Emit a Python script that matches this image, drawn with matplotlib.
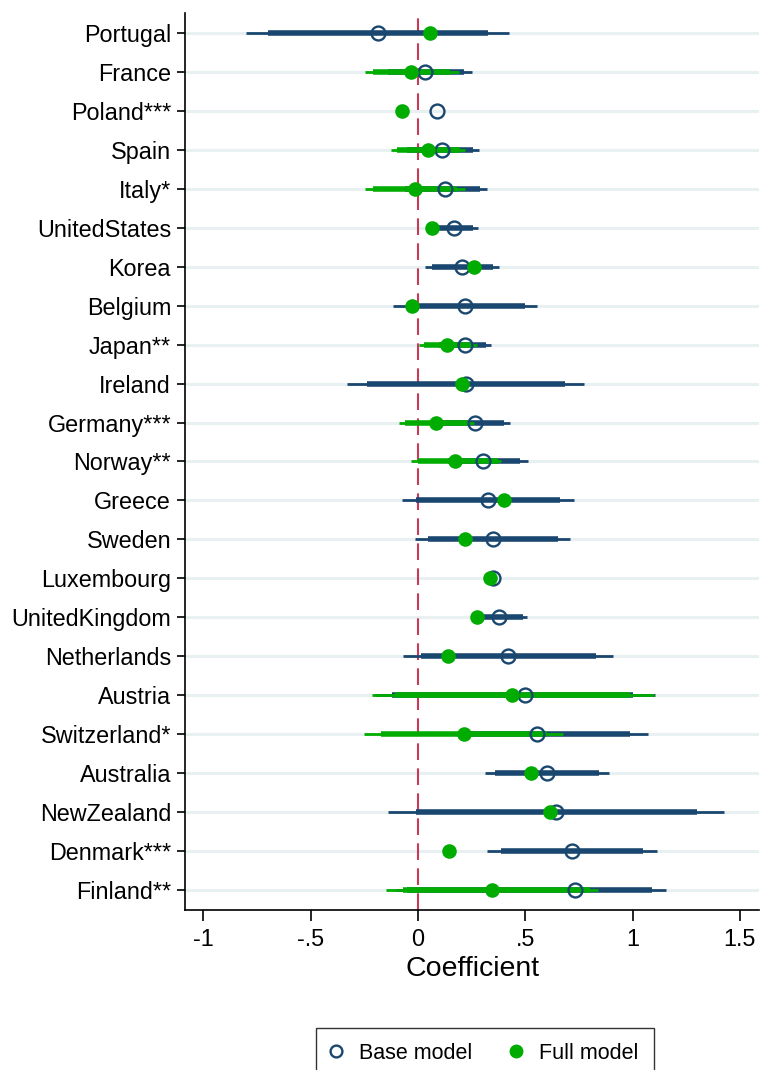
import numpy as np
import matplotlib

matplotlib.use("Agg")
import matplotlib.pyplot as plt
from matplotlib.lines import Line2D

plt.rcParams["font.family"] = ["Liberation Sans", "DejaVu Sans"]

# Countries, top to bottom
countries = [
    "Portugal", "France", "Poland***", "Spain", "Italy*", "UnitedStates",
    "Korea", "Belgium", "Japan**", "Ireland", "Germany***", "Norway**",
    "Greece", "Sweden", "Luxembourg", "UnitedKingdom", "Netherlands",
    "Austria", "Switzerland*", "Australia", "NewZealand", "Denmark***",
    "Finland**",
]

nan = np.nan

# Base model: point estimate, 95% (thin) and 90% (thick) intervals
base_coef = [-0.187, 0.034, 0.091, 0.114, 0.125, 0.169, 0.206, 0.220, 0.220,
             0.223, 0.267, 0.305, 0.326, 0.349, 0.349, 0.378, 0.419, 0.500,
             0.554, 0.600, 0.642, 0.717, 0.733]
base_lo95 = [-0.800, -0.190, nan, -0.080, -0.100, 0.075, 0.035, -0.114, 0.080,
             -0.328, 0.060, 0.100, -0.075, -0.013, nan, 0.280, -0.068, -0.200,
             0.127, 0.313, -0.137, 0.321, -0.100]
base_hi95 = [0.424, 0.250, nan, 0.287, 0.320, 0.279, 0.380, 0.554, 0.340,
             0.775, 0.427, 0.512, 0.729, 0.709, nan, 0.510, 0.908, 1.105,
             1.071, 0.892, 1.424, 1.113, 1.157]
base_lo90 = [-0.700, -0.140, nan, -0.050, -0.060, 0.090, 0.065, -0.020, 0.100,
             -0.238, 0.100, 0.140, -0.010, 0.049, nan, 0.290, 0.013, -0.120,
             0.200, 0.360, -0.008, 0.386, -0.050]
base_hi90 = [0.326, 0.215, nan, 0.259, 0.290, 0.259, 0.352, 0.500, 0.316,
             0.686, 0.399, 0.476, 0.663, 0.652, nan, 0.492, 0.830, 1.004,
             0.989, 0.844, 1.300, 1.048, 1.090]

# Full model
full_coef = [0.057, -0.032, -0.072, 0.049, -0.015, 0.068, 0.263, -0.029, 0.135,
             0.204, 0.083, 0.173, 0.403, 0.220, 0.334, 0.274, 0.138, 0.437,
             0.215, 0.526, 0.616, 0.146, 0.344]
full_lo95 = [nan, -0.246, nan, -0.126, -0.246, nan, nan, nan, 0.007,
             nan, -0.086, -0.032, nan, nan, nan, nan, nan, -0.215,
             -0.251, nan, nan, nan, -0.148]
full_hi95 = [nan, 0.190, nan, 0.220, 0.220, nan, nan, nan, 0.275,
             nan, 0.260, 0.385, nan, nan, nan, nan, nan, 1.098,
             0.678, nan, nan, nan, 0.840]
full_lo90 = [nan, -0.210, nan, -0.095, -0.207, nan, nan, nan, 0.030,
             nan, -0.060, 0.002, nan, nan, nan, nan, nan, -0.106,
             -0.173, nan, nan, nan, -0.070]
full_hi90 = [nan, 0.150, nan, 0.197, 0.180, nan, nan, nan, 0.259,
             nan, 0.243, 0.375, nan, nan, nan, nan, nan, 0.989,
             0.600, nan, nan, nan, 0.800]

xticks = [-1, -0.5, 0, 0.5, 1, 1.5]
xtick_labels = ["-1", "-.5", "0", ".5", "1", "1.5"]

NAVY = "#1a476f"
GREEN = "#00ac00"
RED = "#c83a5a"
GRID = "#e8f0f2"

fig = plt.figure(figsize=(7.61, 10.70), dpi=100)
ax = fig.add_axes([0.2431, 0.15, 0.7545, 0.8374])

n = len(countries)
ypos = np.arange(n)[::-1]  # first country at the top

for y in ypos:
    ax.axhline(y, color=GRID, lw=2.2, zorder=0)

ax.axvline(0, color=RED, lw=1.5, dashes=(8, 4), zorder=1)

# confidence intervals: thin = 95%, thick = 90%
ax.hlines(ypos, base_lo95, base_hi95, color=NAVY, lw=2.0, zorder=2, capstyle="butt")
ax.hlines(ypos, base_lo90, base_hi90, color=NAVY, lw=4.0, zorder=2, capstyle="butt")
ax.hlines(ypos, full_lo95, full_hi95, color=GREEN, lw=2.0, zorder=3, capstyle="butt")
ax.hlines(ypos, full_lo90, full_hi90, color=GREEN, lw=4.0, zorder=3, capstyle="butt")

ax.plot(base_coef, ypos, "o", ms=10, mfc="none", mec=NAVY, mew=1.7,
        ls="none", zorder=4)
ax.plot(full_coef, ypos, "o", ms=10.5, mfc=GREEN, mec=GREEN, mew=0,
        ls="none", zorder=5)

ax.set_xlim(-1.085, 1.59)
ax.set_ylim(-0.5, n - 0.5)
ax.set_yticks(ypos)
ax.set_yticklabels(countries, fontsize=16.8)
ax.set_xticks(xticks)
ax.set_xticklabels(xtick_labels, fontsize=16.8)
ax.tick_params(axis="y", length=6, width=1.2, pad=4)
ax.tick_params(axis="x", length=8, width=1.2, pad=5)
ax.set_xlabel("Coefficient", fontsize=20.5, labelpad=4)

for side in ("top", "right"):
    ax.spines[side].set_visible(False)
for side in ("left", "bottom"):
    ax.spines[side].set_linewidth(1.2)

handles = [
    Line2D([], [], marker="o", ls="none", ms=8.5, mfc="none", mec=NAVY, mew=1.7),
    Line2D([], [], marker="o", ls="none", ms=10, mfc=GREEN, mec=GREEN, mew=0),
]
leg = fig.legend(handles, ["Base model", "Full model"], ncol=2,
                 loc="upper center", bbox_to_anchor=(0.637, 0.0393),
                 borderaxespad=0, fontsize=15.5, frameon=True, fancybox=False,
                 edgecolor="black", handletextpad=0.8, columnspacing=1.8,
                 borderpad=0.7, handlelength=0.5)
leg.get_frame().set_linewidth(1.0)

fig.savefig("out.png", dpi=100)
